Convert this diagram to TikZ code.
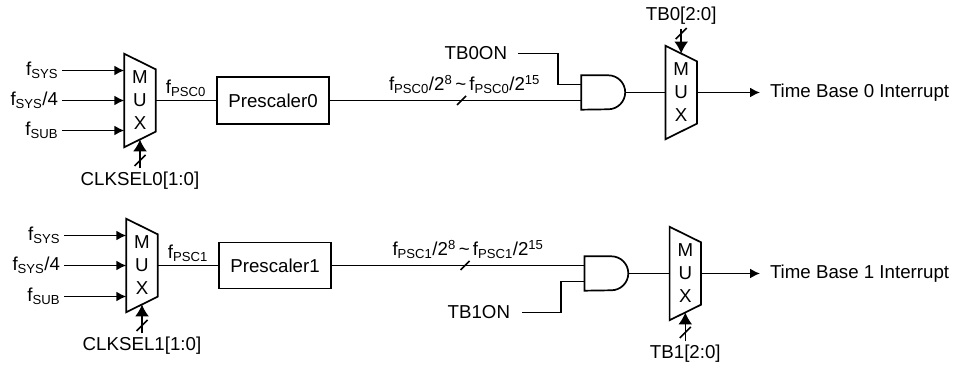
\documentclass[tikz,border=0pt]{standalone}
\usepackage{fontspec}
\setmainfont{Liberation Sans}
\usetikzlibrary{arrows.meta,positioning,calc}
\tikzset{
    wire/.style={black, line width=1.6pt},
    sig/.style={wire, -{Latex[length=10pt,width=10pt]}},
    ctl/.style={wire, -{Latex[length=12pt,width=14pt]}},
    lbl/.style={inner sep=0pt, outer sep=4pt, font=\fontsize{18.7}{22}\selectfont},
    muxbox/.style={minimum width=31pt, minimum height=77.5pt, inner sep=0pt, align=center, font=\fontsize{18.7}{23}\selectfont},
    prebox/.style={draw, line width=1.7pt, minimum width=112pt, minimum height=47pt, inner sep=0pt, font=\fontsize{18.7}{22}\selectfont},
    andbox/.style={minimum width=43.5pt, minimum height=34pt, inner sep=0pt}
}
\newcommand{\fsub}[1]{f\textsubscript{#1}}
% outline of a mux round its text node
\newcommand{\muxshape}[1]{
    \draw[line width=1.7pt, line join=miter] ($(#1.north west)+(0,7.75)$) -- ($(#1.north east)+(0,-7.75)$)
        -- ($(#1.south east)+(0,7.75)$) -- ($(#1.south west)+(0,-7.75)$) -- cycle;
}
% outline of an and gate
\newcommand{\andshape}[1]{
    \draw[line width=1.7pt] (#1.north west) -- ($(#1.north east)+(-17,0)$) arc (90:-90:17) -- (#1.south west) -- cycle;
}
% short slash across a bus
\newcommand{\busmark}[2]{
    \draw[wire] ($(#1)+(-#2,-#2)$) -- ($(#1)+(#2,#2)$);
}
\begin{document}
\begin{tikzpicture}[x=1pt,y=1pt]
    \useasboundingbox (0,0) rectangle (956,366);

    % Upper channel
    \node[muxbox] (mux0) at (140,265.5) {M\\U\\X};
    \muxshape{mux0}
    \foreach \name/\txt/\yy in {sysA/{\fsub{SYS}}/295.5, sysdivA/{\fsub{SYS}/4}/265.5, subA/{\fsub{SUB}}/235.5} {
        \node[lbl, anchor=east] (\name) at (62,\yy) {\txt};
        \draw[sig] (\name.east) -- (\name.east -| mux0.west);
    }
    \node[prebox] (pre0) at (273,265.5) {Prescaler0};
    \node[lbl, above=0pt of $(mux0.east)!0.5!(pre0.west)$] (psc0) {\fsub{PSC0}};
    \draw[wire] (mux0.east) -- (pre0.west);
    \node[lbl, below=29pt of mux0.south] (clk0) {CLKSEL0[1:0]};
    \draw[ctl] (clk0.north) -- (mux0.south);
    \coordinate (clkmark0) at ($(mux0.south)+(0,-21)$);
    \busmark{clkmark0}{5.5}

    \node[andbox] (and0) at (603.25,273.5) {};
    \andshape{and0}
    \draw[wire] (pre0.east) -- (pre0.east -| and0.west);
    \coordinate (busmark0) at (461.5,265.5);
    \busmark{busmark0}{4.5}
    \node[lbl, above=2.5pt of busmark0, xshift=3pt] (rate0) {\fsub{PSC0}/2\textsuperscript{8}\,{\char`~}\,\fsub{PSC0}/2\textsuperscript{15}};
    \node[lbl, anchor=east, outer sep=11pt] (tb0on) at (518,312.5) {TB0ON};
    \coordinate (bend0) at (557.7,281.5);
    \draw[wire] (tb0on.east) -| (bend0) -- (bend0 -| and0.west);

    \node[muxbox] (mux2) at (681.2,273.5) {M\\U\\X};
    \muxshape{mux2}
    \draw[wire] (and0.east) -- (mux2.west);
    \node[lbl, anchor=west, outer sep=10pt] (out0) at (760,273.5) {Time Base 0 Interrupt};
    \draw[sig] (mux2.east) -- (out0.west);
    \node[lbl, above=25pt of mux2.north] (tb0) {TB0[2:0]};
    \draw[ctl] (tb0.south) -- (mux2.north);
    \coordinate (tbmark0) at ($(mux2.north)+(0,20)$);
    \busmark{tbmark0}{5.5}

    % Lower channel
    \node[muxbox] (mux1) at (142,100.5) {M\\U\\X};
    \muxshape{mux1}
    \foreach \name/\txt/\yy in {sysB/{\fsub{SYS}}/130.5, sysdivB/{\fsub{SYS}/4}/100.5, subB/{\fsub{SUB}}/69.5} {
        \node[lbl, anchor=east] (\name) at (64,\yy) {\txt};
        \draw[sig] (\name.east) -- (\name.east -| mux1.west);
    }
    \node[prebox, minimum height=46pt] (pre1) at (275,100.5) {Prescaler1};
    \node[lbl, above=0pt of $(mux1.east)!0.5!(pre1.west)$] (psc1) {\fsub{PSC1}};
    \draw[wire] (mux1.east) -- (pre1.west);
    \node[lbl, below=29pt of mux1.south] (clk1) {CLKSEL1[1:0]};
    \draw[ctl] (clk1.north) -- (mux1.south);
    \coordinate (clkmark1) at ($(mux1.south)+(0,-21)$);
    \busmark{clkmark1}{5.5}

    \node[andbox] (and1) at (606.35,92.5) {};
    \andshape{and1}
    \coordinate (busin1) at (584,100.5);
    \draw[wire] (pre1.east |- busin1) -- (busin1);
    \coordinate (busmark1) at (465,100.5);
    \busmark{busmark1}{4.5}
    \node[lbl, above=2.5pt of busmark1, xshift=3pt] (rate1) {\fsub{PSC1}/2\textsuperscript{8}\,{\char`~}\,\fsub{PSC1}/2\textsuperscript{15}};
    \node[lbl, anchor=east, outer sep=12pt] (tb1on) at (522,53.5) {TB1ON};
    \coordinate (bend1) at (560.7,84.5);
    \draw[wire] (tb1on.east) -| (bend1) -- (bend1 -| and1.west);

    \node[muxbox] (mux3) at (685.3,92.5) {M\\U\\X};
    \muxshape{mux3}
    \draw[wire] (and1.east) -- (mux3.west);
    \node[lbl, anchor=west, outer sep=10pt] (out1) at (760,92.5) {Time Base 1 Interrupt};
    \draw[sig] (mux3.east) -- (out1.west);
    \node[lbl, below=29pt of mux3.south] (tb1) {TB1[2:0]};
    \draw[ctl] (tb1.north) -- (mux3.south);
    \coordinate (tbmark1) at ($(mux3.south)+(0,-20)$);
    \busmark{tbmark1}{5.5}
\end{tikzpicture}
\end{document}
